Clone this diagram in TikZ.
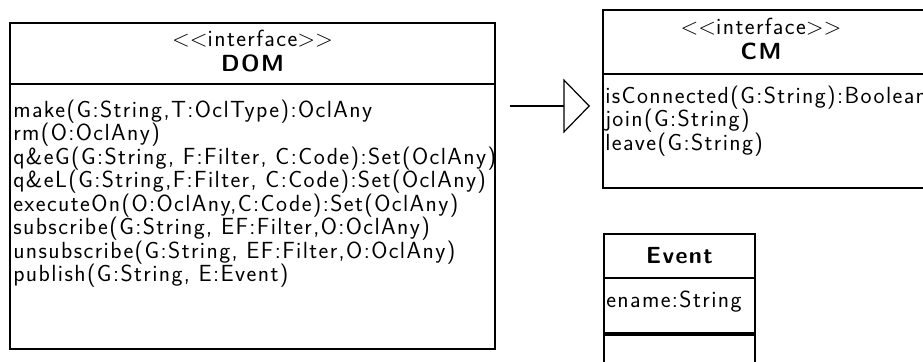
\documentclass[tikz,border=0pt]{standalone}
\usepackage{fontspec}
\setsansfont{Latin Modern Sans}[LetterSpace=6]
\usetikzlibrary{arrows.meta,fit}
\newcommand{\stereo}[1]{\textless\kern0pt\textless\kern0pt#1\kern0pt\textgreater\kern0pt\textgreater}
\begin{document}
\begin{tikzpicture}[x=0.75pt,y=-0.75pt,
  every node/.style={font=\sffamily\fontsize{17.5}{21}\selectfont, inner sep=0pt},
  classbox/.style={draw, line width=1.5pt, inner sep=0pt, fit={#1}},
  sepline/.style={line width=1.5pt},
  heavysep/.style={line width=2.4pt},
  opline/.style={anchor=base west},
  titleline/.style={anchor=base},
  genline/.style={line width=1.1pt, -{Triangle[open, length=20pt, width=41pt, line width=0.9pt]}}
]
\useasboundingbox (0,0) rectangle (923,361);
\clip (0,0) rectangle (923,361);

% DOM interface
\node[classbox={(10,23) (495,349)}] (dom) {};
\draw[sepline] (dom.west |- 0,84) -- (dom.east |- 0,84);
\node[titleline] (dom-stereo) at (252.5,46) {\stereo{interface}};
\node[titleline] (dom-name) at (252.5,71) {\bfseries DOM};
\node[opline] (dom-op1) at (13,117) {make(G:String,T:OclType):OclAny};
\node[opline] (dom-op2) at (13,140.5) {rm(O:OclAny)};
\node[opline] (dom-op3) at (13,164) {q\&eG(G:String, F:Filter, C:Code):Set(OclAny)};
\node[opline] (dom-op4) at (13,187.5) {q\&eL(G:String,F:Filter, C:Code):Set(OclAny)};
\node[opline] (dom-op5) at (13,211) {executeOn(O:OclAny,C:Code):Set(OclAny)};
\node[opline] (dom-op6) at (13,234.5) {subscribe(G:String, EF:Filter,O:OclAny)};
\node[opline] (dom-op7) at (13,258) {unsubscribe(G:String, EF:Filter,O:OclAny)};
\node[opline] (dom-op8) at (13,281.5) {publish(G:String, E:Event)};

% CM interface (continues past the right edge)
\node[classbox={(603,10) (930,188)}] (cm) {};
\draw[sepline] (cm.west |- 0,74) -- (cm.east |- 0,74);
\node[titleline] (cm-stereo) at (761,34) {\stereo{interface}};
\node[titleline] (cm-name) at (761,59) {\bfseries CM};
\node[opline] (cm-op1) at (605,103) {isConnected(G:String):Boolean};
\node[opline] (cm-op2) at (605,126.5) {join(G:String)};
\node[opline] (cm-op3) at (605,150) {leave(G:String)};

% Event class (continues past the bottom edge)
\node[classbox={(604,234) (755,370)}] (event) {};
\draw[sepline] (event.west |- 0,278) -- (event.east |- 0,278);
\draw[heavysep] (event.west |- 0,334) -- (event.east |- 0,334);
\node[titleline] (event-name) at (679.5,263) {\bfseries Event};
\node[opline] (event-attr1) at (606,307) {ename:String};

% generalization arrow
\coordinate (gen-from) at (510,106);
\coordinate (gen-to) at (590,106);
\draw[genline] (gen-from) -- (gen-to);
\end{tikzpicture}
\end{document}
